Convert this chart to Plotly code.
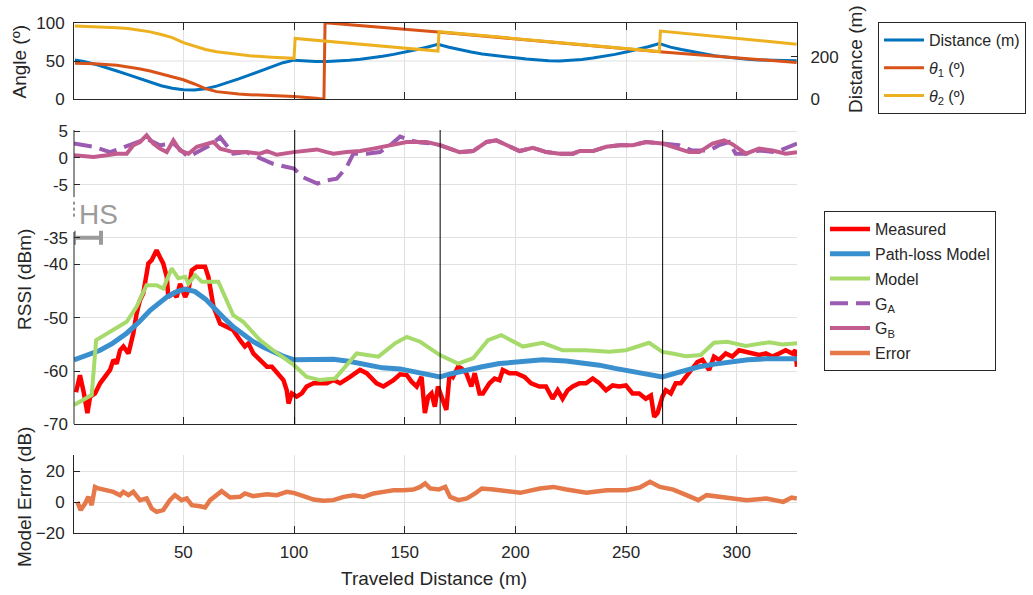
import plotly.graph_objects as go

# ---------------- data ----------------
# Top panel
dist_x = [1, 5, 10, 15, 20, 25, 30, 35, 40, 45, 50, 55, 60, 65, 70, 75, 80, 85, 90, 95, 100,
          105, 110, 115, 120, 125, 130, 135, 140, 145, 150, 155, 160, 165,
          170, 175, 180, 185, 190, 195, 200, 205, 210, 215, 220, 225, 230, 235, 240, 245, 250, 255, 260, 265,
          270, 275, 280, 285, 290, 295, 300, 305, 310, 315, 320, 327]
dist_m = [185, 178, 165, 150, 133, 116, 98, 80, 64, 52, 45, 44, 50, 62, 78, 96, 115, 135, 155, 172, 184,
          180, 178, 178, 180, 183, 188, 194, 202, 211, 221, 233, 245, 258,
          245, 232, 222, 213, 206, 200, 195, 189, 184, 181, 180, 182, 187, 194, 202, 211, 222, 234, 247, 262,
          245, 234, 224, 214, 205, 199, 193, 188, 185, 183, 182, 181]

theta1_x = [1, 10, 20, 25, 30, 35, 40, 45, 50, 55, 60, 65, 70, 75, 80, 90, 100, 110, 113.5, 114, 165, 265, 327]
theta1_deg = [47, 46.5, 44.5, 42.5, 40, 37, 33.5, 30, 25.5, 20, 14, 10, 8, 6.8, 6, 5, 3.8, 1.5, 0, 100, 88, 62, 48]

theta2_x = [1, 10, 20, 25, 30, 35, 40, 45, 50, 55, 60, 65, 70, 75, 80, 90, 100, 100.5, 165, 165.5, 265, 265.5, 327]
theta2_deg = [95.7, 95, 93.5, 92.5, 90.5, 88, 84.5, 80.5, 74, 69, 65, 62, 60, 58, 56.8, 55, 53.5, 79.5, 63, 88.3, 62.3, 89, 72]

# Middle panel (RSSI, dBm)
meas_x = [1.5, 3.3, 5, 6.65, 7.9, 10.1, 12.4, 15.4, 16.9, 18.4, 19.9, 21.4, 22.9, 25.2, 27.4, 28.9, 30.4, 31.9,
          34.2, 35.7, 37.9, 39.4, 40.9, 42.5, 43.2, 45.5, 47.0, 48.5, 50.8, 52.3, 53.8, 56.1, 59.8, 61.3, 62.4,
          63.6, 66.6, 69.6, 72.5, 75.6, 77.8, 79.4, 81.6, 84.6, 87.8, 90.0, 92.2, 95.2, 96.7, 97.5, 99.0, 101.2,
          103.5, 105.7, 108.8, 114.8, 117.8, 120.8, 125.3, 129.8, 132.8, 137.3, 140.4, 144.9, 147.9, 150.9, 153.1,
          155.4, 157.6, 159.1, 160.6, 162.1, 163.6, 165.0, 166.6, 168.8, 170.3, 171.8, 174.1, 175.6, 177.8, 180.1,
          181.6, 183.8, 185.3, 188.3, 190.6, 192.8, 194.3, 197.3, 200.3, 204.1, 207.1, 210.8, 213.8, 216.8, 219.1,
          221.3, 223.6, 225.9, 228.9, 231.9, 234.9, 237.9, 240.9, 243.9, 246.9, 249.9, 252.9, 255.9, 258.9, 261.2,
          262.7, 264.2, 266.4, 267.9, 270.2, 272.4, 274.7, 277.0, 279.9, 282.2, 284.5, 287.5, 289.7, 292.0, 295.0,
          298.0, 301.0, 304.1, 307.1, 310.1, 313.1, 316.1, 319.1, 322.1, 325.1, 326.5, 327.2]
meas_dbm = [-64, -60.8, -64, -67.9, -64.8, -64.2, -62.3, -60.4, -59.8, -57.9, -58.6, -56.1, -55.4, -56.7, -52.9,
            -49.2, -46.7, -45.4, -39.8, -39.2, -37.3, -38.6, -39.8, -42.3, -46.1, -45.4, -46.1, -43.6, -46.1, -44.8,
            -41.1, -40.4, -40.4, -42.3, -44.8, -47.9, -51.1, -51.7, -52.3, -54.2, -55.4, -54.8, -56.7, -57.9, -59.2,
            -59.2, -60.4, -61.7, -63.6, -66.1, -64.2, -64.8, -64.2, -62.9, -62.3, -62.3, -61.7, -62.3, -61.1, -59.8,
            -60.4, -62.3, -62.9, -61.7, -60.6, -60.75, -62.0, -62.9, -61.1, -67.9, -64.8, -64.2, -66.7, -62.9, -64.8,
            -67.3, -60.4, -61.1, -59.2, -59.5, -60.4, -62.9, -60.4, -64.2, -64.2, -62.3, -61.4, -61.7, -59.8, -60.4,
            -60.4, -61.1, -62.3, -62.9, -62.9, -65.2, -63.6, -65.2, -63.6, -62.9, -62.3, -62.3, -61.4, -62.3, -63.6,
            -62.7, -62.9, -62.7, -64.2, -64.2, -65.2, -64.6, -68.6, -67.9, -64.8, -63.6, -64.2, -62.3, -62.3, -61.1,
            -59.8, -58.3, -57.9, -59.8, -57.3, -57.9, -56.7, -57.3, -56.1, -56.4, -56.7, -57.0, -56.7, -57.3, -56.7,
            -56.1, -56.7, -56.1, -59.2]

pl_x = [0.6, 5, 12.4, 18, 24.4, 30, 35, 42.5, 47, 50.8, 55.3, 60, 63.6, 68, 72.5, 77, 81.6, 86, 90.5, 95, 100,
        105, 109.8, 117.8, 125.3, 132.8, 140, 147.9, 157, 165.9, 171, 177.8, 185, 192.8, 202, 212.3, 222.9, 230,
        237.9, 245, 252.9, 260, 266.4, 274, 283, 290, 298, 305, 313.1, 320, 327.2]
pl_dbm = [-57.9, -57.3, -56.1, -54.8, -52.9, -50.8, -48.6, -46.1, -45.1, -44.6, -45.1, -46.5, -47.9, -49.9, -51.7,
          -53.2, -54.5, -55.5, -56.4, -57.2, -57.9, -57.9, -57.8, -57.8, -58.2, -58.9, -59.4, -59.6, -60.4, -61.1,
          -60.5, -59.8, -59.2, -58.6, -58.2, -57.9, -58.1, -58.4, -58.9, -59.5, -60.1, -60.6, -61.1, -60.2, -59.2,
          -58.7, -58.2, -57.9, -57.7, -57.6, -57.7]

model_x = [0.6, 8.6, 10.6, 24.4, 28.9, 33.4, 37.9, 40.9, 44.7, 47.7, 50.8, 52.3, 55.3, 58.4, 61.3, 65.8, 72.5, 77.0,
           84.6, 90.5, 100, 105.7, 111.8, 118.5, 128.3, 138.1, 145.6, 150.9, 157, 165.9, 174.1, 180.9, 187.6, 193.6,
           203.4, 212.3, 221.3, 231.9, 242.4, 249.9, 260.4, 266.4, 270.9, 277, 283.7, 289.7, 295.7, 304.1, 314.6,
           320.6, 327.2]
model_dbm = [-66.4, -64.5, -54.2, -50.75, -47.9, -43.9, -43.9, -44.5, -40.75, -42.6, -42.3, -43.6, -42.0, -43.25,
             -43.25, -43.25, -49.5, -50.75, -54.2, -56.1, -58.9, -61.1, -61.7, -61.4, -56.7, -57.3, -54.8, -53.6,
             -54.5, -57.0, -58.6, -57.6, -54.2, -53.25, -55.4, -54.7, -56.1, -56.1, -56.4, -56.1, -54.7, -56.4,
             -56.7, -57.2, -57.0, -54.7, -54.5, -55.3, -54.6, -55.0, -54.8]

# Antenna gains (dB), drawn in the upper band of the middle panel
ga_x = [0.6, 9.4, 16.9, 21.4, 27.4, 33.4, 39.4, 45.5, 52.3, 57.6, 62.1, 66.6, 72.5, 78.5, 84.6, 90.5, 96.7, 100,
        103.9, 110.6, 114.8, 119.3, 123.8, 126.8, 132.8, 138.8, 143.4, 147.9, 152.4, 157, 162.9, 165.9, 170.3,
        174.8, 180.9, 186.9, 191.4, 195.9, 201.9, 207.9, 213.9, 220, 226, 229, 235, 241, 247, 253, 259, 266.4,
        273.9, 279.9, 287.5, 292, 296.5, 299.5, 304.1, 310.1, 317.6, 323.6, 327.2]
ga_db = [2.7, 2.1, 1.1, 1.75, 2.7, 3.6, 2.4, 2.7, 0.2, 1.4, 2.4, 3.9, 0.8, 1.1, -0.1, -1.1, -1.7, -2.0,
         -3.6, -4.8, -4.2, -3.9, -1.7, 0.8, 0.8, 1.1, 2.4, 4.0, 3.3, 2.9, 2.7, 2.4, 1.75,
         1.1, 1.3, 3.0, 3.3, 2.4, 1.3, 1.9, 1.1, 0.8, 0.8, 1.3, 1.3, 2.1, 2.4, 2.4, 3.0, 2.7,
         2.4, 1.4, 1.4, 2.4, 3.0, 0.8, 0.8, 1.4, 1.1, 2.1, 2.7]

gb_x = [0.6, 9.4, 15.4, 19.9, 24.4, 27.4, 30.4, 33.4, 36.4, 39.4, 42.5, 45.5, 48.5, 52.3, 56.1, 59.1, 63.6, 66.6,
        72.5, 78.5, 84.6, 87.8, 92.2, 99.8, 105.7, 110.3, 114.8, 117.8, 123.8, 129.8, 135.8, 140.4, 144.9, 150.9,
        153.9, 159.9, 165.9, 170.3, 174.8, 180.9, 186.9, 191.4, 195.9, 201.9, 207.9, 213.9, 220, 226, 229, 235,
        241, 247, 253, 259, 266.4, 272.4, 278.5, 283, 289, 294.3, 298, 304.1, 310.1, 316.1, 322.1, 327.2]
gb_db = [0.5, 0.2, 0.5, 0.8, 0.8, 2.4, 3.0, 4.25, 2.7, 1.75, 1.1, 3.3, 1.4, 0.8, 2.1, 2.4, 3.0, 1.75,
         1.1, 1.1, 0.8, 1.3, 0.6, 1.1, 1.4, 1.6, 1.1, 0.8, 1.1, 1.3, 1.75, 2.1, 2.4, 3.0,
         3.0, 3.0, 2.4, 1.75, 1.1, 1.3, 3.0, 3.3, 2.4, 1.3, 1.9, 1.1, 0.8, 0.8, 1.3, 1.3,
         2.1, 2.4, 2.4, 3.0, 2.7, 1.9, 1.1, 1.1, 2.7, 3.3, 2.6, 0.8, 1.75, 1.4, 0.8, 1.1]

# Bottom panel: model error (dB)
err_x = [2.1, 3.6, 5.6, 7.1, 8.6, 10.1, 11.6, 15.4, 18.4, 21.4, 22.9, 25.2, 27.4, 30.4, 33.4, 35.7, 37.9, 40.9,
         43.9, 46.2, 49.2, 51.5, 53.8, 57.6, 59.8, 62.1, 65.1, 67.3, 71.1, 75.6, 77.8, 81.6, 87.8, 92.2, 96.7,
         99.8, 104.3, 108.8, 113.3, 117.8, 122.4, 126.9, 131.4, 135.9, 140.4, 144.9, 149.4, 153.9, 157.0, 159.2,
         161.5, 165.3, 168.3, 170.5, 174.3, 178.1, 181.8, 184.8, 190.1, 196.0, 202.1, 211.1, 217.1, 223.1, 232.1,
         241.2, 250.2, 256.2, 260.8, 265.3, 271.3, 277.3, 282.6, 286.4, 292.4, 298.4, 304.5, 313.5, 321.0, 324.8,
         327.1]
err_db = [0.2, -5.1, -0.9, 3.4, -1.9, 9.8, 8.8, 7.7, 6.6, 4.5, 6.6, 4.5, 6.6, 1.3, 2.4, -4.1, -6.2, -5.1,
          1.3, 4.5, 1.3, 2.4, -1.9, -2.6, -3.4, 1.3, 4.5, 7.1, 3.0, 3.4, 5.6, 3.9, 5.1, 4.5, 6.6,
          6.0, 3.9, 1.7, 0.9, 1.3, 3.4, 4.5, 3.4, 5.6, 6.6, 7.7, 7.7, 8.1, 9.8, 12.0,
          8.8, 8.1, 9.8, 3.4, 1.3, 2.4, 5.6, 8.8, 8.1, 7.3, 6.0, 8.8, 9.8, 8.1, 6.0,
          7.7, 7.7, 9.4, 13.1, 9.8, 8.1, 4.5, 1.3, 4.5, 3.4, 1.9, 1.3, 2.4, 0.2, 3.0,
          2.4]

handover_x = [100.3, 166, 266.5]
hs_x = [0.6, 12.8]        # HS bar extent (m)
hs_level = -35            # dBm
g_offset = -20            # gain band drawn 20 dB above the RSSI scale break

x_ticks = [50, 100, 150, 200, 250, 300]
angle_ticks = [0, 50, 100]
dist_ticks = [0, 200]
rssi_ticks = [-70, -60, -50, -40, -35]
gain_ticks = [-5, 0, 5]
err_ticks = [-20, 0, 20]

# ---------------- layout helpers ----------------
W, H = 1033, 595
FONT = "Liberation Sans, Arial, sans-serif"
TXT = "#262626"
GRID = "#e1e1e1"
X0, X1 = 0.6, 327.2


def fx(p):
    return p / W


def fy(p):
    return 1 - p / H


xdom = [fx(74), fx(797)]
RSSI_TOP = -14.75

fig = go.Figure()

# Top panel traces
fig.add_trace(go.Scatter(x=dist_x, y=dist_m, mode="lines", name="Distance (m)", legendgroup="d",
                         line=dict(color="#0072bd", width=3), xaxis="x", yaxis="y", legend="legend"))
fig.add_trace(go.Scatter(x=theta1_x, y=theta1_deg, mode="lines", name="<i>θ</i><sub>1</sub> (º)",
                         legendgroup="t1",
                         line=dict(color="#d95319", width=3), xaxis="x", yaxis="y2", legend="legend"))
fig.add_trace(go.Scatter(x=theta2_x, y=theta2_deg, mode="lines", name="<i>θ</i><sub>2</sub> (º)",
                         legendgroup="t2",
                         line=dict(color="#edb120", width=3), xaxis="x", yaxis="y2", legend="legend"))

# Middle panel traces
fig.add_trace(go.Scatter(x=meas_x, y=meas_dbm, mode="lines", name="Measured", legendgroup="m",
                         line=dict(color="#ff0000", width=4.5), xaxis="x2", yaxis="y3", legend="legend2"))
fig.add_trace(go.Scatter(x=pl_x, y=pl_dbm, mode="lines", name="Path-loss Model", legendgroup="p",
                         line=dict(color="#3a90cf", width=5), xaxis="x2", yaxis="y3", legend="legend2"))
fig.add_trace(go.Scatter(x=model_x, y=model_dbm, mode="lines", name="Model", legendgroup="mo",
                         line=dict(color="#a6da6b", width=4), xaxis="x2", yaxis="y3", legend="legend2"))
fig.add_trace(go.Scatter(x=ga_x, y=[v + g_offset for v in ga_db], mode="lines", name="G<sub>A</sub>",
                         legendgroup="ga",
                         line=dict(color="#9a5bb0", width=4, dash="18px,8px"), xaxis="x2", yaxis="y3",
                         legend="legend2"))
fig.add_trace(go.Scatter(x=gb_x, y=[v + g_offset for v in gb_db], mode="lines", name="G<sub>B</sub>",
                         legendgroup="gb",
                         line=dict(color="#c25b8e", width=4), xaxis="x2", yaxis="y3", legend="legend2"))
# HS bar
hs_c = (hs_x[0] + hs_x[1]) / 2
fig.add_trace(go.Scatter(x=[hs_c], y=[hs_level], mode="markers", showlegend=False,
                         marker=dict(size=1, color="#9b9b9b"),
                         error_x=dict(type="data", array=[(hs_x[1] - hs_x[0]) / 2], thickness=4, width=7,
                                      color="#9b9b9b"),
                         cliponaxis=False, xaxis="x2", yaxis="y3", hoverinfo="skip"))

# Bottom panel trace
fig.add_trace(go.Scatter(x=err_x, y=err_db, mode="lines", name="Error", legendgroup="e",
                         line=dict(color="#e5794a", width=4.5), xaxis="x3", yaxis="y4", legend="legend2"))

base = dict(showline=True, linecolor=TXT, linewidth=1, ticks="inside", tickcolor=TXT, ticklen=6,
            tickwidth=1, gridcolor=GRID, gridwidth=1, zeroline=False, automargin=False,
            tickfont=dict(size=17, color=TXT, family=FONT))

xcommon = dict(base, domain=xdom, range=[X0, X1], tickvals=x_ticks, showgrid=True, ticklen=7,
               ticklabelstandoff=3)

fig.update_layout(
    template="none",
    width=W, height=H, margin=dict(l=0, r=0, t=0, b=0, pad=0, autoexpand=False),
    paper_bgcolor="white", plot_bgcolor="white",
    font=dict(family=FONT, color=TXT, size=16),
    showlegend=True,
    xaxis=dict(xcommon, anchor="y", showticklabels=False, mirror="ticks"),
    yaxis=dict(base, domain=[fy(99.3), fy(22.7)], range=[0, 360], side="right", tickvals=dist_ticks,
               showgrid=False, anchor="x", ticklabelstandoff=9),
    yaxis2=dict(base, overlaying="y", side="left", range=[0, 100], tickvals=angle_ticks, showgrid=False,
                anchor="x", ticklabelstandoff=5),
    xaxis2=dict(xcommon, anchor="y3", showticklabels=False),
    yaxis3=dict(base, domain=[fy(424.3), fy(130)], range=[-70, RSSI_TOP], anchor="x2",
                tickvals=rssi_ticks + [v + g_offset for v in gain_ticks],
                ticktext=[str(v) for v in rssi_ticks] + [str(v) for v in gain_ticks],
                showline=False, showgrid=True, ticklabelstandoff=5),
    xaxis3=dict(xcommon, anchor="y4", showticklabels=True),
    yaxis4=dict(base, domain=[fy(533.3), fy(455)], range=[-20, 30.3], tickvals=err_ticks, showgrid=True,
                anchor="x3", ticklabelstandoff=5),
    legend=dict(x=fx(878), y=fy(22), xanchor="left", yanchor="top", bordercolor=TXT, borderwidth=1,
                bgcolor="white", font=dict(size=16, color=TXT, family=FONT), itemwidth=40,
                tracegroupgap=4),
    legend2=dict(x=fx(824), y=fy(211), xanchor="left", yanchor="top", bordercolor=TXT, borderwidth=1,
                 bgcolor="white", font=dict(size=16, color=TXT, family=FONT), itemwidth=40,
                 tracegroupgap=1),
)

shapes = []
# gridline at 50 deg in top panel (below traces)
shapes.append(dict(type="line", xref="x", yref="y", x0=X0, x1=X1, y0=50 / 100 * 360, y1=50 / 100 * 360,
                   line=dict(color=GRID, width=1), layer="below"))
# broken left axis of middle panel
ax_x = fx(74)
shapes.append(dict(type="line", xref="paper", yref="y3", x0=ax_x, x1=ax_x, y0=RSSI_TOP, y1=-27.35,
                   line=dict(color=TXT, width=1)))
shapes.append(dict(type="line", xref="paper", yref="y3", x0=ax_x, x1=ax_x, y0=-28.2, y1=-31.2,
                   line=dict(color=TXT, width=1, dash="dot")))
shapes.append(dict(type="line", xref="paper", yref="y3", x0=ax_x, x1=ax_x, y0=-33.9, y1=-70,
                   line=dict(color=TXT, width=1)))
for hx in handover_x:
    shapes.append(dict(type="line", xref="x2", yref="y3", x0=hx, x1=hx, y0=-70, y1=RSSI_TOP,
                       line=dict(color="black", width=1)))
fig.update_layout(shapes=shapes)

ann = []
ann.append(dict(text="Angle (º)", xref="paper", yref="paper", x=fx(19.5), y=fy(62), textangle=-90,
                showarrow=False, xanchor="center", yanchor="middle", font=dict(size=19, color=TXT)))
ann.append(dict(text="Distance (m)", xref="paper", yref="paper", x=fx(856), y=fy(59), textangle=-90,
                showarrow=False, xanchor="center", yanchor="middle", font=dict(size=19, color=TXT)))
ann.append(dict(text="RSSI (dBm)", xref="paper", yref="paper", x=fx(24), y=fy(280), textangle=-90,
                showarrow=False, xanchor="center", yanchor="middle", font=dict(size=19, color=TXT)))
ann.append(dict(text="Model Error (dB)", xref="paper", yref="paper", x=fx(24), y=fy(497), textangle=-90,
                showarrow=False, xanchor="center", yanchor="middle", font=dict(size=19, color=TXT)))
ann.append(dict(text="Traveled Distance (m)", xref="paper", yref="paper", x=fx(434), y=fy(578),
                showarrow=False, xanchor="center", yanchor="middle", font=dict(size=19, color=TXT)))
ann.append(dict(text="HS", xref="x2", yref="y3", x=2.0, y=-30.7, showarrow=False, xanchor="left",
                yanchor="middle", font=dict(size=28, color="#9b9b9b")))
fig.update_layout(annotations=ann)

fig.write_html("out.html")
